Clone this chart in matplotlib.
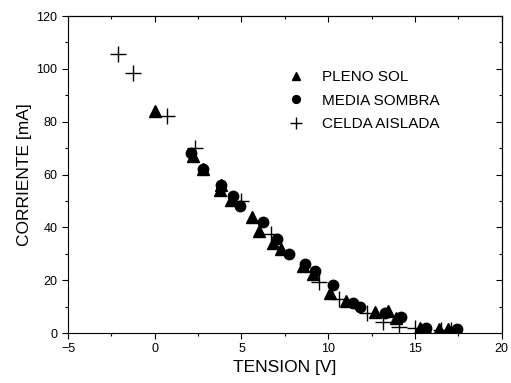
import matplotlib
matplotlib.use("Agg")
import matplotlib.pyplot as plt
from matplotlib.ticker import MultipleLocator

plt.rcParams['font.family'] = ['Liberation Sans', 'DejaVu Sans']

# PLENO SOL (triangles)
sol_v = [0.0, 2.2, 2.8, 3.8, 3.75, 4.4, 5.6, 6.0, 6.8, 7.3, 8.55, 9.1, 10.1,
         11.05, 12.7, 13.45, 13.9, 15.3, 16.4, 16.9, 17.4]
sol_i = [84, 67, 62, 56, 54, 50.5, 44, 38.5, 34, 32, 25.5, 22.5, 15,
         12, 8, 8.5, 5.5, 1.8, 1.5, 1.5, 1.0]

# MEDIA SOMBRA (circles)
sombra_v = [2.1, 2.8, 3.8, 4.5, 4.9, 6.25, 7.05, 7.75, 8.65, 9.25, 10.3,
            11.4, 11.85, 13.25, 14.2, 15.65, 15.6, 17.4]
sombra_i = [68, 62, 56, 52, 48, 42, 35.5, 30, 26, 23.5, 18,
            11.5, 10, 7.5, 6, 1.8, 0.2, 1.4]

# CELDA AISLADA (crosses)
celda_v = [-2.1, -1.25, 0.7, 2.3, 5.0, 6.7, 9.45, 10.6, 12.25, 13.15,
           14.05, 15.0, 16.5, 17.1]
celda_i = [105.5, 98.5, 82, 70, 50, 37.5, 19.5, 13, 7.5, 4.3,
           2.2, 1.8, 1.2, 1.0]

fig = plt.figure(figsize=(5.11, 3.83), dpi=100)
ax = fig.add_axes([0.133, 0.1305, 0.849, 0.8275])

ax.plot(sol_v, sol_i, linestyle='none', marker='^', markersize=8.5,
        color='black', label='PLENO SOL')
ax.plot(sombra_v, sombra_i, linestyle='none', marker='o', markersize=7.5,
        color='black', label='MEDIA SOMBRA')
ax.plot(celda_v, celda_i, linestyle='none', marker='+', markersize=11,
        markeredgewidth=1.0, color='black', label='CELDA AISLADA')

ax.set_xlim(-5, 20)
ax.set_ylim(0, 120)
ax.xaxis.set_major_locator(MultipleLocator(5))
ax.xaxis.set_minor_locator(MultipleLocator(2.5))
ax.yaxis.set_major_locator(MultipleLocator(20))
ax.yaxis.set_minor_locator(MultipleLocator(10))

ax.tick_params(which='both', direction='out', top=False, right=False,
               labelsize=9, width=0.8)
ax.tick_params(which='major', length=4)
ax.tick_params(which='minor', length=2.5)

# inward ticks on top and right
sec_x = ax.secondary_xaxis('top')
sec_x.xaxis.set_major_locator(MultipleLocator(5))
sec_x.xaxis.set_minor_locator(MultipleLocator(2.5))
sec_x.tick_params(which='both', direction='in', labeltop=False, width=0.8)
sec_x.tick_params(which='major', length=4)
sec_x.tick_params(which='minor', length=2.5)
sec_y = ax.secondary_yaxis('right')
sec_y.yaxis.set_major_locator(MultipleLocator(20))
sec_y.yaxis.set_minor_locator(MultipleLocator(10))
sec_y.tick_params(which='both', direction='in', labelright=False, width=0.8)
sec_y.tick_params(which='major', length=4)
sec_y.tick_params(which='minor', length=2.5)

ax.set_xlabel('TENSION [V]', fontsize=12.5, labelpad=3)
ax.set_ylabel('CORRIENTE [mA]', fontsize=12.5, labelpad=3)

ax.legend(loc='upper left', bbox_to_anchor=(0.484, 0.863), frameon=False,
          fontsize=11, handlelength=1.0, handletextpad=1.2,
          labelspacing=0.62, borderpad=0.2, markerscale=0.75)

fig.savefig('out.png', dpi=100)
